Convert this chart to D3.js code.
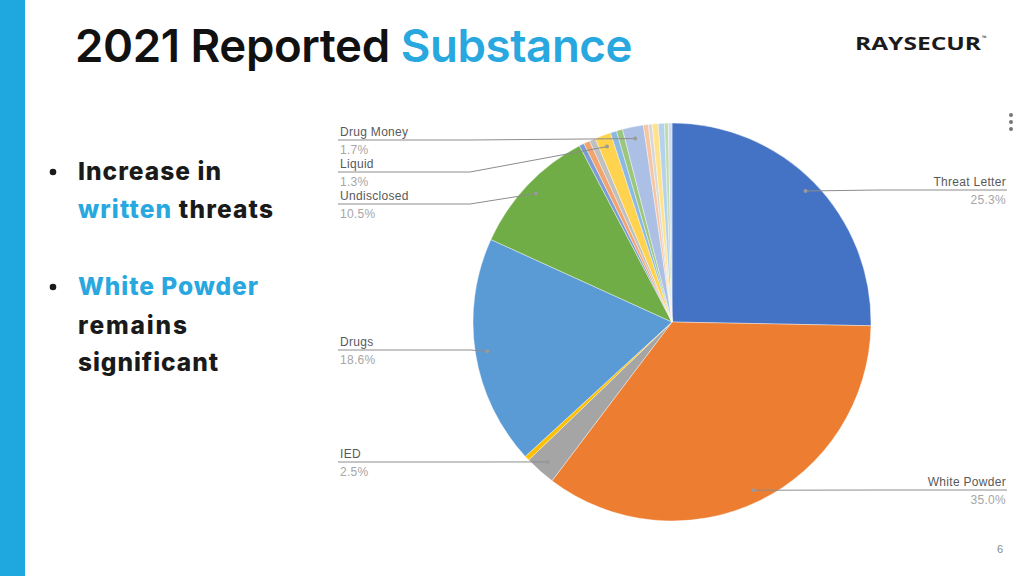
<!DOCTYPE html>
<html><head><meta charset="utf-8">
<script src="https://cdn.jsdelivr.net/npm/d3@7/dist/d3.min.js"></script>
<style>html,body{margin:0;padding:0;background:#fff;overflow:hidden}</style>
</head><body><svg id="chart" width="1024" height="576"></svg>
<script>
// ---- data ----
const categories = ["Threat Letter","White Powder","IED","Other A","Drugs","Undisclosed","Other B","Other C","Other D","Liquid","Other E","Other F","Drug Money","Other G","Other H","Other I","Other J","Other K","Other L"];
const values = [25.3,35.0,2.5,0.4,18.6,10.5,0.4,0.5,0.5,1.3,0.5,0.5,1.7,0.4,0.3,0.5,0.5,0.3,0.3];
const labeled = ["Threat Letter","White Powder","IED","Drugs","Undisclosed","Liquid","Drug Money"];
const baseColors = ["#4472C4","#ED7D31","#A5A5A5","#FFC000","#5B9BD5","#70AD47"];
const lightLevels = [0,0.3,0.55,0.75];
const titleParts = ["2021 Reported ","Substance"];
const bullets = [[["Increase in",0]],[["written",1],[" threats",0]],[["White Powder",1]],[["remains",0]],[["significant",0]]];

// ---- layout ----
const svg = d3.select("#chart");
const W=1024,H=576;
const cx=672, cy=322, R=199;
const labelLineY = {"Drug Money":140,"Liquid":172,"Undisclosed":204,"Drugs":350,"IED":462,"Threat Letter":190,"White Powder":490};
const bulletBase = [180,218,295,334,371];
const bulletWidth = [143,195,180,109,140];

svg.append("rect").attr("x",0).attr("y",0).attr("width",25).attr("height",H).attr("fill","#1FA7DF");

function fitText(sel, w){ const l=sel.node().getComputedTextLength(); const fs=parseFloat(sel.attr("font-size")); sel.attr("font-size", fs*w/l); }

const title = svg.append("text").attr("x",75).attr("y",62).attr("font-family","Inter, 'Open Sans', sans-serif").attr("font-weight",600).attr("font-size",40).attr("letter-spacing","-0.4");
title.selectAll("tspan").data(titleParts).join("tspan").text(d=>d).attr("fill",(d,i)=>i?"#29A8E0":"#111");
fitText(title,556);

// logo
const logo = svg.append("text").attr("x",855).attr("y",50).attr("font-family","'Open Sans', sans-serif").attr("font-weight",700).attr("font-size",18).attr("fill","#1b1b1b");
logo.append("tspan").text("RAYSECUR").attr("textLength",126).attr("lengthAdjust","spacingAndGlyphs");
logo.append("tspan").text("™").attr("font-size",6).attr("dy",-10).attr("dx",1);

// bullets
bullets.forEach((parts,i)=>{
  const t = svg.append("text").attr("x",78).attr("y",bulletBase[i]).attr("font-family","Inter, sans-serif").attr("font-weight",800).attr("font-size",24.5)
    .attr("textLength",bulletWidth[i]).attr("lengthAdjust","spacing");
  parts.forEach(p=>t.append("tspan").text(p[0]).attr("fill",p[1]?"#29A8E0":"#1a1a1a"));
});
[172,287].forEach(y=>svg.append("circle").attr("cx",53).attr("cy",y).attr("r",3.3).attr("fill","#1a1a1a"));

// menu dots + page num
[115,122,129].forEach(y=>svg.append("circle").attr("cx",1011).attr("cy",y).attr("r",2).attr("fill","#777"));
svg.append("text").attr("x",1003).attr("y",553).attr("text-anchor","end").attr("font-family","'Liberation Sans', sans-serif").attr("font-size",11).attr("fill","#888").text("6");

// ---- pie ----
function color(i){ const c=d3.rgb(baseColors[i%6]); const t=lightLevels[Math.floor(i/6)]; return d3.interpolateRgb(c,"#fff")(t); }
const data = categories.map((c,i)=>({name:c,value:values[i],i}));
const total = d3.sum(values);
const pie = d3.pie().sort(null).value(d=>d.value).startAngle(0).endAngle(2*Math.PI);
const arcs = pie(data);
const arc = d3.arc().innerRadius(0).outerRadius(R);
const g = svg.append("g").attr("transform",`translate(${cx},${cy})`);
g.selectAll("path").data(arcs).join("path").attr("d",arc).attr("fill",d=>color(d.data.i)).attr("stroke","#fff").attr("stroke-width",0.4);

// labels
const fmt = v=>(v/total*100).toFixed(1)+"%";
const lab = svg.append("g").attr("font-family","'Liberation Sans', Arial, sans-serif").attr("font-size",12).attr("letter-spacing","0.3");
arcs.filter(a=>labeled.includes(a.data.name)).forEach(a=>{
  const mid=(a.startAngle+a.endAngle)/2;
  const px=cx+Math.sin(mid)*R*0.94, py=cy-Math.cos(mid)*R*0.94;
  const ly=labelLineY[a.data.name];
  const right = mid<Math.PI;
  let pts;
  if(right){ pts=[[1007,ly],[Math.max(px,880),ly],[px,py]]; }
  else { pts=[[338,ly],[Math.min(px,470),ly],[px,py]]; }
  lab.append("path").attr("d",d3.line()(pts)).attr("fill","none").attr("stroke","#8c8c8c").attr("stroke-width",1);
  lab.append("circle").attr("cx",px).attr("cy",py).attr("r",2).attr("fill","#9a9a9a");
  const x = right?1006:340, anchor = right?"end":"start";
  lab.append("text").attr("x",x).attr("y",ly-4).attr("text-anchor",anchor).attr("fill","#595959").text(a.data.name);
  lab.append("text").attr("x",x).attr("y",ly+14).attr("text-anchor",anchor).attr("fill","#a6a6a6").text(fmt(a.data.value));
});
</script></body></html>
